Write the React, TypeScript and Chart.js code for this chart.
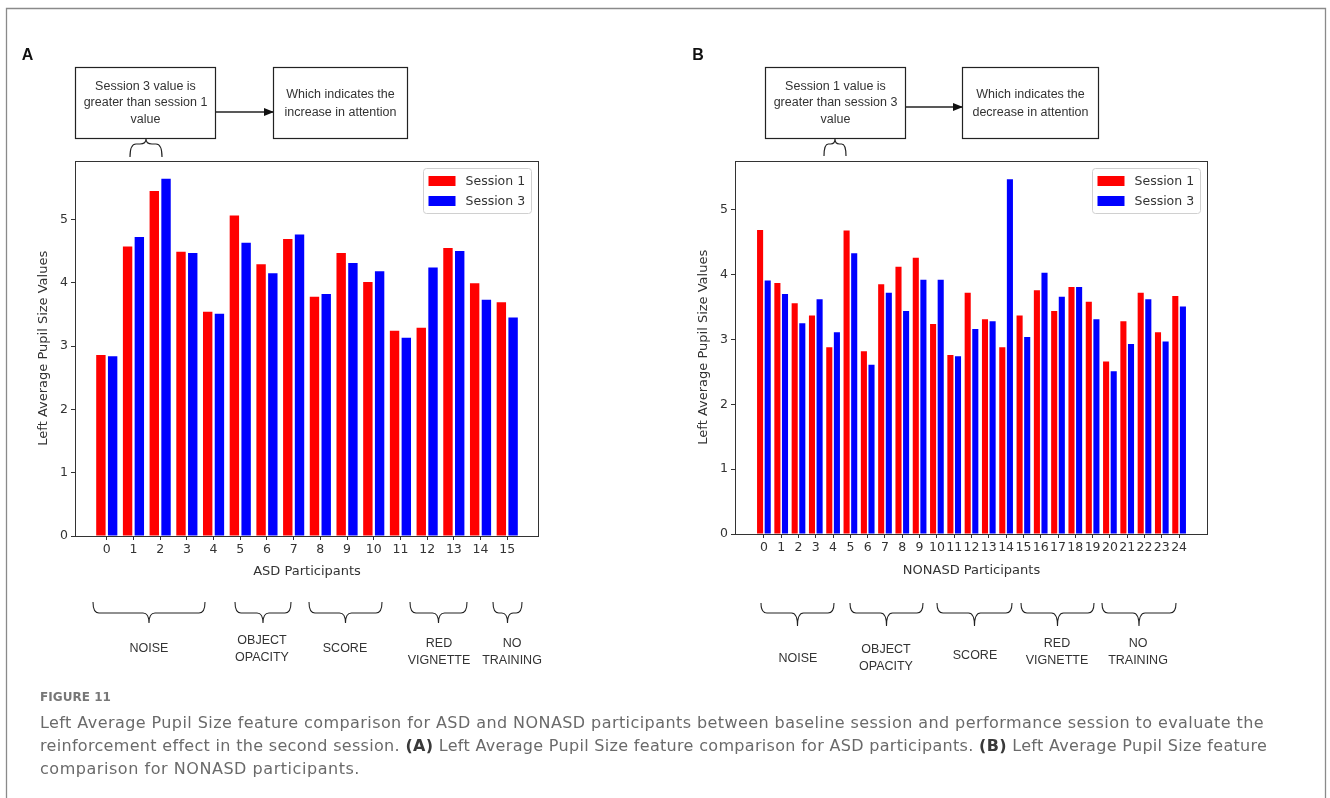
import React, { useEffect, useLayoutEffect, useRef } from 'react';
import { Chart, registerables } from 'chart.js';

Chart.register(...registerables);

// ---------- data ----------
const asdParticipants = [0, 1, 2, 3, 4, 5, 6, 7, 8, 9, 10, 11, 12, 13, 14, 15];
const asdSession1 = [2.86, 4.57, 5.45, 4.49, 3.54, 5.06, 4.29, 4.69, 3.78, 4.47, 4.01, 3.24, 3.29, 4.55, 3.99, 3.69];
const asdSession3 = [2.84, 4.72, 5.64, 4.47, 3.51, 4.63, 4.15, 4.76, 3.82, 4.31, 4.18, 3.13, 4.24, 4.50, 3.73, 3.45];

const nonasdParticipants = [0, 1, 2, 3, 4, 5, 6, 7, 8, 9, 10, 11, 12, 13, 14, 15, 16, 17, 18, 19, 20, 21, 22, 23, 24];
const nonasdSession1 = [4.69, 3.87, 3.56, 3.37, 2.88, 4.68, 2.82, 3.85, 4.12, 4.26, 3.24, 2.76, 3.72, 3.31, 2.88, 3.37, 3.76, 3.44, 3.81, 3.58, 2.66, 3.28, 3.72, 3.11, 3.67];
const nonasdSession3 = [3.91, 3.70, 3.25, 3.62, 3.11, 4.33, 2.61, 3.72, 3.44, 3.92, 3.92, 2.74, 3.16, 3.28, 5.47, 3.04, 4.03, 3.66, 3.81, 3.31, 2.51, 2.93, 3.62, 2.97, 3.51];

const seriesLabels = ['Session 1', 'Session 3'];
const seriesColors = ['#ff0000', '#0000ff'];
const yTickValues = [0, 1, 2, 3, 4, 5];
const yAxisTitle = 'Left Average Pupil Size Values';

// ---------- helpers ----------
const TXT = '#333333';
const chartFont = { family: '"DejaVu Sans", sans-serif', size: 12.5 };
const titleFont = { family: '"DejaVu Sans", sans-serif', size: 13 };

const framePlugin = {
  id: 'frameLegend',
  afterDraw(chart: any) {
    const { ctx, chartArea: a } = chart;
    ctx.save();
    ctx.strokeStyle = '#333333';
    ctx.lineWidth = 1;
    ctx.strokeRect(Math.round(a.left) + 0.5, Math.round(a.top) + 0.5, Math.round(a.right - a.left) - 1, Math.round(a.bottom - a.top) - 1);
    // legend box (inside plot, upper right)
    const bw = 108, bh = 45;
    const bx = a.right - 7.5 - bw, by = a.top + 8;
    ctx.beginPath();
    const r = 3;
    ctx.moveTo(bx + r, by);
    ctx.lineTo(bx + bw - r, by);
    ctx.quadraticCurveTo(bx + bw, by, bx + bw, by + r);
    ctx.lineTo(bx + bw, by + bh - r);
    ctx.quadraticCurveTo(bx + bw, by + bh, bx + bw - r, by + bh);
    ctx.lineTo(bx + r, by + bh);
    ctx.quadraticCurveTo(bx, by + bh, bx, by + bh - r);
    ctx.lineTo(bx, by + r);
    ctx.quadraticCurveTo(bx, by, bx + r, by);
    ctx.closePath();
    ctx.fillStyle = 'rgba(255,255,255,0.85)';
    ctx.fill();
    ctx.strokeStyle = '#d0d0d0';
    ctx.stroke();
    chart.data.datasets.forEach((ds: any, i: number) => {
      const cy = by + 12.5 + i * 20;
      ctx.fillStyle = ds.backgroundColor;
      ctx.fillRect(bx + 5, cy - 5, 27, 10);
      ctx.fillStyle = TXT;
      ctx.font = '12.5px "DejaVu Sans", sans-serif';
      ctx.textBaseline = 'middle';
      ctx.textAlign = 'left';
      ctx.fillText(ds.label, bx + 42, cy + 0.5);
    });
    ctx.restore();
  },
};

type PanelProps = {
  left: number; top: number; width: number; height: number;
  cats: number[]; s1: number[]; s3: number[];
  xMin: number; xMax: number; yMax: number;
  xTitle: string; padTop: number; padRight: number; xAxisHeight: number; xTitlePad: number;
};

function BarPanel(p: PanelProps) {
  const ref = useRef<HTMLCanvasElement>(null);
  useEffect(() => {
    const chart = new Chart(ref.current as HTMLCanvasElement, {
      type: 'bar',
      data: {
        datasets: [p.s1, p.s3].map((vals, k) => ({
          label: seriesLabels[k],
          data: p.cats.map((c, i) => ({ x: c, y: vals[i] })),
          backgroundColor: seriesColors[k],
          borderWidth: 0,
          categoryPercentage: 0.88,
          barPercentage: 0.8,
        })),
      },
      options: {
        responsive: false,
        animation: false,
        events: [],
        layout: { padding: { left: 0, right: p.padRight, top: p.padTop, bottom: 0 } },
        plugins: { legend: { display: false }, tooltip: { enabled: false }, title: { display: false } },
        scales: {
          x: {
            type: 'linear',
            min: p.xMin,
            max: p.xMax,
            bounds: 'data',
            offset: false,
            afterBuildTicks: (s: any) => { s.ticks = p.cats.map((v) => ({ value: v })); },
            afterFit: (s: any) => { s.height = p.xAxisHeight; },
            ticks: {
              font: chartFont, color: TXT, autoSkip: false, maxRotation: 0, minRotation: 0, padding: 2,
              callback: (v: any) => String(v),
            },
            grid: { drawOnChartArea: false, drawTicks: true, tickLength: 4, color: '#333333', offset: false },
            border: { display: false },
            title: { display: true, text: p.xTitle, font: titleFont, color: TXT, padding: { top: 0, bottom: p.xTitlePad } },
          },
          y: {
            type: 'linear',
            min: 0,
            max: p.yMax,
            bounds: 'data',
            afterBuildTicks: (s: any) => { s.ticks = yTickValues.map((v) => ({ value: v })); },
            afterFit: (s: any) => { s.width = 55; },
            ticks: { font: chartFont, color: TXT, padding: 3, callback: (v: any) => String(v) },
            grid: { drawOnChartArea: false, drawTicks: true, tickLength: 4, color: '#333333' },
            border: { display: false },
            title: { display: true, text: yAxisTitle, font: titleFont, color: TXT, padding: { top: 16.2, bottom: 0 } },
          },
        },
      } as any,
      plugins: [framePlugin],
    });
    return () => chart.destroy();
  }, []);
  return (
    <canvas
      ref={ref}
      width={p.width}
      height={p.height}
      style={{ position: 'absolute', left: p.left, top: p.top, width: p.width, height: p.height }}
    />
  );
}

function FitText(props: { x: number; y: number; width: number; style?: any; children: any }) {
  const ref = useRef<HTMLDivElement>(null);
  useLayoutEffect(() => {
    const el = ref.current as HTMLDivElement;
    const fit = () => {
      el.style.letterSpacing = '0px';
      const w = el.getBoundingClientRect().width;
      const n = (el.textContent || '').length;
      if (n > 0) el.style.letterSpacing = (props.width - w) / n + 'px';
    };
    fit();
    const f = (document as any).fonts;
    if (f && f.ready) f.ready.then(fit);
  }, [props.width]);
  return (
    <div
      ref={ref}
      style={{ position: 'absolute', left: props.x, top: props.y, whiteSpace: 'nowrap', lineHeight: '20px', ...props.style }}
    >
      {props.children}
    </div>
  );
}

function braceDown(x1: number, x2: number, y0: number, ym: number, yp: number) {
  const cx = (x1 + x2) / 2;
  const r = Math.min(6, (x2 - x1) / 5);
  return `M${x1},${y0} Q${x1},${ym} ${x1 + r},${ym} L${cx - r},${ym} Q${cx},${ym} ${cx},${yp} Q${cx},${ym} ${cx + r},${ym} L${x2 - r},${ym} Q${x2},${ym} ${x2},${y0}`;
}

const SANS = '"Liberation Sans", Arial, sans-serif';

function Label({ x, y, t }: { x: number; y: number; t: string }) {
  return (
    <text x={x} y={y} textAnchor="middle" dominantBaseline="central" fontFamily={SANS} fontSize={12.5} fill="#333">
      {t}
    </text>
  );
}

function Overlay() {
  const stroke = '#222';
  return (
    <svg width={1330} height={798} style={{ position: 'absolute', left: 0, top: 0, pointerEvents: 'none' }}>
      <defs>
        <marker id="ah" markerWidth="10" markerHeight="8" refX="9" refY="4" orient="auto" markerUnits="userSpaceOnUse">
          <path d="M0,0 L10,4 L0,8 Z" fill="#111" />
        </marker>
      </defs>
      {/* outer frame */}
      <path d="M6.5,900 L6.5,8.5 L1325.5,8.5 L1325.5,900" fill="none" stroke="#8a8a8a" strokeWidth={1.3} />
      {/* panel letters */}
      <text x={27.5} y={54} textAnchor="middle" dominantBaseline="central" fontFamily={SANS} fontWeight="bold" fontSize={16} fill="#111">A</text>
      <text x={698} y={54} textAnchor="middle" dominantBaseline="central" fontFamily={SANS} fontWeight="bold" fontSize={16} fill="#111">B</text>

      {/* Panel A annotation */}
      <rect x={75.5} y={67.5} width={140} height={71} fill="#fff" stroke={stroke} strokeWidth={1.2} />
      <Label x={145.5} y={86} t="Session 3 value is" />
      <Label x={145.5} y={102} t="greater than session 1" />
      <Label x={145.5} y={119} t="value" />
      <line x1={216} y1={112} x2={273} y2={112} stroke={stroke} strokeWidth={1.3} markerEnd="url(#ah)" />
      <rect x={273.5} y={67.5} width={134} height={71} fill="#fff" stroke={stroke} strokeWidth={1.2} />
      <Label x={340.5} y={94} t="Which indicates the" />
      <Label x={340.5} y={112} t="increase in attention" />
      <path d={braceDown(130, 162, 157, 144, 139)} fill="none" stroke={stroke} strokeWidth={1.2} />

      {/* Panel B annotation */}
      <rect x={765.5} y={67.5} width={140} height={71} fill="#fff" stroke={stroke} strokeWidth={1.2} />
      <Label x={835.5} y={86} t="Session 1 value is" />
      <Label x={835.5} y={102} t="greater than session 3" />
      <Label x={835.5} y={119} t="value" />
      <line x1={906} y1={107} x2={962} y2={107} stroke={stroke} strokeWidth={1.3} markerEnd="url(#ah)" />
      <rect x={962.5} y={67.5} width={136} height={71} fill="#fff" stroke={stroke} strokeWidth={1.2} />
      <Label x={1030.5} y={94} t="Which indicates the" />
      <Label x={1030.5} y={112} t="decrease in attention" />
      <path d={braceDown(824, 846, 156, 144, 139)} fill="none" stroke={stroke} strokeWidth={1.2} />

      {/* Panel A groups */}
      <path d={braceDown(93, 205, 602, 613, 623)} fill="none" stroke={stroke} strokeWidth={1.1} />
      <path d={braceDown(235, 291, 602, 613, 623)} fill="none" stroke={stroke} strokeWidth={1.1} />
      <path d={braceDown(309, 382, 602, 613, 623)} fill="none" stroke={stroke} strokeWidth={1.1} />
      <path d={braceDown(410, 467, 602, 613, 623)} fill="none" stroke={stroke} strokeWidth={1.1} />
      <path d={braceDown(493, 522, 602, 613, 623)} fill="none" stroke={stroke} strokeWidth={1.1} />
      <Label x={149} y={648} t="NOISE" />
      <Label x={262} y={640} t="OBJECT" />
      <Label x={262} y={657} t="OPACITY" />
      <Label x={345} y={648} t="SCORE" />
      <Label x={439} y={643} t="RED" />
      <Label x={439} y={660} t="VIGNETTE" />
      <Label x={512} y={643} t="NO" />
      <Label x={512} y={660} t="TRAINING" />

      {/* Panel B groups */}
      <path d={braceDown(761, 834, 603, 613, 626)} fill="none" stroke={stroke} strokeWidth={1.1} />
      <path d={braceDown(850, 923, 603, 613, 626)} fill="none" stroke={stroke} strokeWidth={1.1} />
      <path d={braceDown(937, 1012, 603, 613, 626)} fill="none" stroke={stroke} strokeWidth={1.1} />
      <path d={braceDown(1021, 1094, 603, 613, 626)} fill="none" stroke={stroke} strokeWidth={1.1} />
      <path d={braceDown(1102, 1176, 603, 613, 626)} fill="none" stroke={stroke} strokeWidth={1.1} />
      <Label x={798} y={658} t="NOISE" />
      <Label x={886} y={649} t="OBJECT" />
      <Label x={886} y={666} t="OPACITY" />
      <Label x={975} y={655} t="SCORE" />
      <Label x={1057} y={643} t="RED" />
      <Label x={1057} y={660} t="VIGNETTE" />
      <Label x={1138} y={643} t="NO" />
      <Label x={1138} y={660} t="TRAINING" />
    </svg>
  );
}

export default function App() {
  const cap = { fontFamily: '"DejaVu Sans", sans-serif', fontSize: 16, color: '#6a6a6a' };
  const b = { fontWeight: 700, color: '#3a3a3a' };
  return (
    <div style={{ position: 'absolute', left: 0, top: 0, width: 1330, height: 798, background: '#fff', overflow: 'hidden' }}>
      <BarPanel
        left={20} top={150} width={540} height={430}
        cats={asdParticipants} s1={asdSession1} s3={asdSession3}
        xMin={-1.19} xMax={16.19} yMax={5.93}
        xTitle="ASD Participants" padTop={9} padRight={21} xAxisHeight={44} xTitlePad={0.5}
      />
      <BarPanel
        left={680} top={150} width={548} height={430}
        cats={nonasdParticipants} s1={nonasdSession1} s3={nonasdSession3}
        xMin={-1.67} xMax={25.67} yMax={5.76}
        xTitle="NONASD Participants" padTop={7} padRight={20} xAxisHeight={46} xTitlePad={1.5}
      />
      <Overlay />
      <FitText x={40} y={687} width={71} style={{ fontFamily: '"DejaVu Sans", sans-serif', fontSize: 12, fontWeight: 700, color: '#777777' }}>
        FIGURE 11
      </FitText>
      <FitText x={40} y={713} width={1224} style={cap}>
        Left Average Pupil Size feature comparison for ASD and NONASD participants between baseline session and performance session to evaluate the
      </FitText>
      <FitText x={40} y={736} width={1227} style={cap}>
        reinforcement effect in the second session. <span style={b}>(A)</span> Left Average Pupil Size feature comparison for ASD participants. <span style={b}>(B)</span> Left Average Pupil Size feature
      </FitText>
      <FitText x={40} y={759} width={320} style={cap}>
        comparison for NONASD participants.
      </FitText>
    </div>
  );
}
